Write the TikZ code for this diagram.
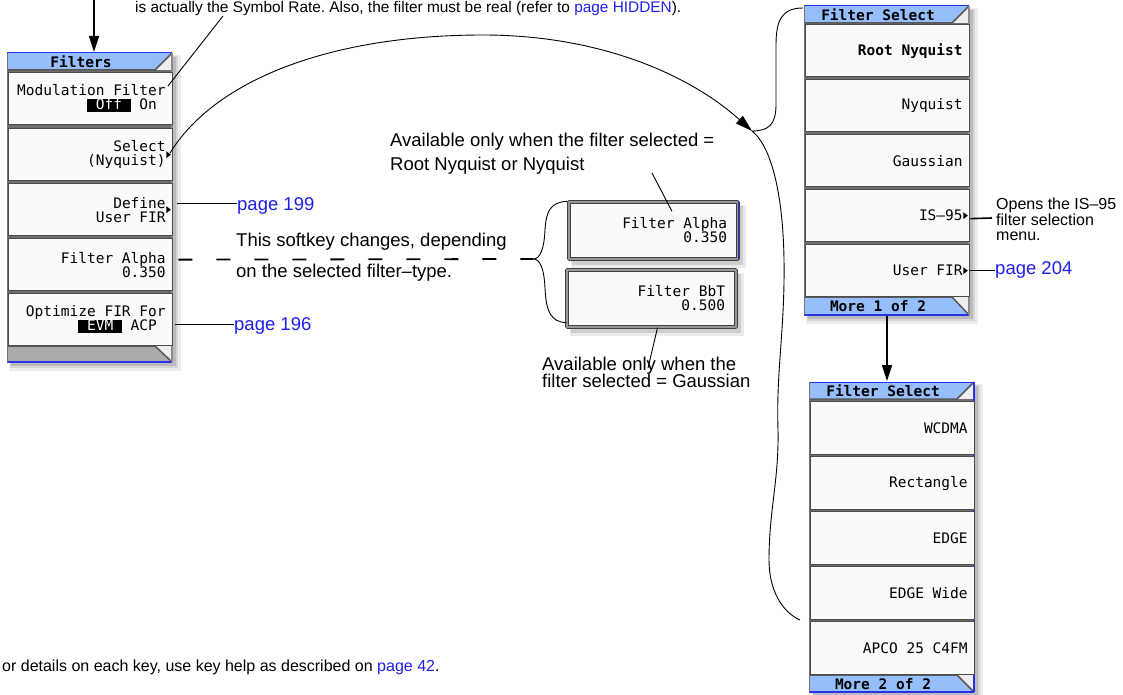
\documentclass[tikz,border=0pt]{standalone}
\usepackage{fontspec}
\setmainfont{Liberation Sans}
\newfontfamily\keyfont{DejaVu Sans Mono}
\usetikzlibrary{arrows.meta}
\definecolor{linkblue}{RGB}{30,30,240}
\definecolor{titleblue}{RGB}{150,190,250}
\definecolor{edgeblue}{RGB}{40,50,230}
\definecolor{keyfill}{RGB}{250,250,250}
\definecolor{panelgray}{RGB}{110,110,110}
\definecolor{tabgray}{RGB}{170,170,170}
\definecolor{lightbg}{RGB}{238,238,238}
\frenchspacing
\newcommand\ksp{\hbox to 0.602em{}}
\newcommand\invbox[1]{{\setlength\fboxsep{0pt}\colorbox{black}{\rule[-2.5pt]{0pt}{13pt}\textcolor{white}{\phantom{x}#1\phantom{x}}}}}
\newcommand\menupanel[7]{%
  \fill[black,opacity=0.07] (#1+2,#2+2) rectangle (#3+9,#4+9);
  \fill[black,opacity=0.10] (#1+3,#2+3) rectangle (#3+6,#4+6);
  \fill[black,opacity=0.12] (#1+4,#2+4) rectangle (#3+4,#4+4);
  \fill[panelgray] (#1,#2) rectangle (#3,#4);
  \fill[lightbg] (#3-17,#2) rectangle (#3,#2+17);
  \fill[titleblue] (#1,#2) -- (#3,#2) -- (#3-17,#2+17) -- (#1,#2+17) -- cycle;
  \draw[black!65,line width=1.5pt] (#1,#2+17) -- (#3-17,#2+17) -- (#3,#2);
  \draw[edgeblue,line width=1pt] (#1,#2) -- (#3,#2);
  \fill[lightbg] (#3-17,#5) rectangle (#3,#4);
  \fill[#6] (#1,#5) -- (#3-17,#5) -- (#3,#4) -- (#1,#4) -- cycle;
  \draw[black!65,line width=1.5pt] (#1,#5) -- (#3-17,#5) -- (#3,#4);
  \draw[edgeblue,line width=1.5pt] (#1,#4) -- (#3,#4);
  \draw[#7,line width=1.5pt] (#3,#2) -- (#3,#4);
  \draw[black!55,line width=1pt] (#1,#2) -- (#1,#4);
}
\newcommand\subarr[1]{\fill ([xshift=-7pt,yshift=3.5pt]#1.east) -- ([xshift=-7pt,yshift=-3.5pt]#1.east) -- ([xshift=-2.5pt]#1.east) -- cycle;}
\newcommand\keysize{\fontsize{14.5}{14}\selectfont}
\tikzset{
  key/.style={draw=black!70, line width=1.3pt, fill=keyfill, anchor=north west,
    minimum height=52pt, inner xsep=7pt, inner ysep=0pt, text width=150pt, align=right,
    font=\keyfont\keysize},
  boldkey/.style={key, font=\keyfont\bfseries\keysize},
  titletext/.style={font=\keyfont\bfseries\keysize, inner sep=0pt},
  lonekey/.style={key, anchor=center, minimum height=57pt, text width=147pt, inner xsep=11pt,
    draw=black!75, double=black!40, double distance=1.2pt},
  ann/.style={font=\fontsize{18.5}{22}\selectfont, inner sep=0pt, anchor=base west},
  smallann/.style={ann, font=\fontsize{16}{18}\selectfont},
  conn/.style={line width=1.6pt},
  fineline/.style={line width=0.9pt},
  headarrow/.style={-{Triangle[length=16pt,width=10pt]}},
}
\begin{document}
\begin{tikzpicture}[x=1pt,y=-1pt,line join=round]
\useasboundingbox (0,0) rectangle (1123,695);

% ---------- left menu: Filters ----------
\menupanel{7}{53}{172}{362}{346}{tabgray}{black!45}
\node[titletext] (T1) at (81,61.5) {Filters};
\node[key] (L1) at (8,72) {Modulation\ksp Filter\\\invbox{Off}\ksp On\phantom{x}};
\node[key] (L2) at (8,128) {Select\\(Nyquist)};
\node[key] (L3) at (8,183) {Define\\User\ksp FIR};
\node[key] (L4) at (8,238) {Filter\ksp Alpha\\0.350};
\node[key] (L5) at (8,293) {Optimize\ksp FIR\ksp For\\\invbox{EVM}\ksp ACP\phantom{x}};
\subarr{L2}
\subarr{L3}

% ---------- right menu A ----------
\menupanel{804}{6}{969}{315}{297}{titleblue}{black!45}
\node[titletext] (TA) at (878,14.5) {Filter\ksp Select};
\node[boldkey] (A1) at (805,24) {Root\ksp Nyquist};
\node[key] (A2) at (805,79) {Nyquist};
\node[key] (A3) at (805,134) {Gaussian};
\node[key] (A4) at (805,189) {IS–95};
\node[key] (A5) at (805,244) {User\ksp FIR};
\subarr{A4}
\subarr{A5}
\node[titletext] (MA) at (878,306) {More\ksp 1\ksp of\ksp 2};

% ---------- right menu B ----------
\menupanel{809}{382}{974}{692}{675}{titleblue}{edgeblue}
\node[titletext] (TB) at (883,390.5) {Filter\ksp Select};
\node[key,minimum height=53pt] (B1) at (810,401) {WCDMA};
\node[key,minimum height=53pt] (B2) at (810,456) {Rectangle};
\node[key,minimum height=53pt] (B3) at (810,511) {EDGE};
\node[key,minimum height=53pt] (B4) at (810,566) {EDGE\ksp Wide};
\node[key,minimum height=53pt] (B5) at (810,621) {APCO\ksp 25\ksp C4FM};
\node[titletext] (MB) at (883,684) {More\ksp 2\ksp of\ksp 2};

% ---------- alternative softkeys ----------
\fill[black,opacity=0.08] (571,205) rectangle (746,268);
\fill[black,opacity=0.12] (572,206) rectangle (743,265);
\fill[black,opacity=0.08] (570,273) rectangle (744,336);
\fill[black,opacity=0.12] (571,274) rectangle (741,333);
\node[lonekey] (FA) at (653.5,230.5) {Filter\ksp Alpha\\0.350};
\draw[edgeblue,line width=1.2pt] (FA.north east) -- (FA.south east);
\node[lonekey] (FB) at (651.5,298.5) {Filter\ksp BbT\\0.500};

% ---------- texts ----------
\node[ann,font=\fontsize{15.4}{18}\selectfont] (toptext) at (135,13) {is actually the Symbol Rate. Also, the filter must be real (refer to \textcolor{linkblue}{page HIDDEN}).};
\node[ann] (a1) at (390,147) {Available only when the filter selected =};
\node[ann] (a2) at (390,171) {Root Nyquist or Nyquist};
\node[ann] (b1) at (542,370) {Available only when the};
\node[ann] (b2) at (542,387) {filter selected = Gaussian};
\node[smallann] (o1) at (996,209) {Opens the IS–95};
\node[smallann] (o2) at (996,225) {filter selection};
\node[smallann] (o3) at (996,240) {menu.};
\node[ann,text=linkblue] (p204) at (995,274) {page 204};
\node[ann,text=linkblue] (p199) at (237,210) {page 199};
\node[ann,text=linkblue] (p196) at (234,330) {page 196};
\node[ann] (t1) at (236,246) {This softkey changes, depending};
\node[ann] (t2) at (236,277) {on the selected filter–type.};
\node[ann,font=\fontsize{16}{18}\selectfont] (bottomtext) at (2,671) {or details on each key, use key help as described on \textcolor{linkblue}{page 42}.};

% ---------- connectors ----------
\coordinate (topin) at (94,0);
\coordinate (Ltop) at (94,52);
\draw[conn,headarrow] (topin) -- (Ltop);

\coordinate (mf) at (168,86);
\coordinate (mft) at (223,16);
\draw[fineline] (mf) -- (mft);

\coordinate (selout) at (170,153);
\coordinate (btip) at (752,131);
\draw[fineline,-{Triangle[length=17pt,width=10pt]}] (selout) .. controls (215,80) and (330,35) .. (483,35) .. controls (600,35) and (690,75) .. (btip);

\coordinate (Atl) at (803,8);
\coordinate (Bbl) at (800,620);
\draw[fineline] (Atl) .. controls (782,8) and (776,20) .. (776,45) -- (776,105) .. controls (776,125) and (768,131) .. (btip)
  .. controls (770,145) and (783,190) .. (784,260) .. controls (785,330) and (776,370) .. (778,430)
  .. controls (779,480) and (769,510) .. (769,560) .. controls (769,590) and (782,612) .. (Bbl);

\coordinate (Abot) at (887,316);
\coordinate (Btop) at (887,381);
\draw[conn,headarrow] (Abot) -- (Btop);

\coordinate (s199) at ([xshift=4pt,yshift=6pt]L3.east);
\draw[conn] (s199) -- (s199 -| p199.west);
\coordinate (s196) at ([xshift=2pt,yshift=-5pt]L5.east);
\draw[conn] (s196) -- (s196 -| p196.west);

\coordinate (dtip) at (533,259);
\draw[line width=1.8pt,dash pattern=on 14pt off 24pt] ([xshift=5pt,yshift=5pt]L4.east) -- (dtip);
\draw[fineline] ([xshift=-1pt]FA.north west) .. controls (550,202) and (546,212) .. (545,230)
  .. controls (544,250) and (540,259) .. (dtip)
  .. controls (540,259) and (544,268) .. (545,288) .. controls (546,310) and (550,322) .. ([yshift=5pt]FB.south west);

\coordinate (isend) at (992,218);
\draw[conn] ([yshift=-3pt]A4.east) -- (isend);
\draw[conn] (A5.east) -- (A5.east -| p204.west);

\coordinate (a1e) at (652,173);
\draw[fineline] (a1e) -- ([xshift=18.5pt,yshift=-10pt]FA.north);
\coordinate (b1e) at (648,368);
\draw[fineline] ([xshift=6pt]FB.south) -- (b1e);
\end{tikzpicture}
\end{document}
